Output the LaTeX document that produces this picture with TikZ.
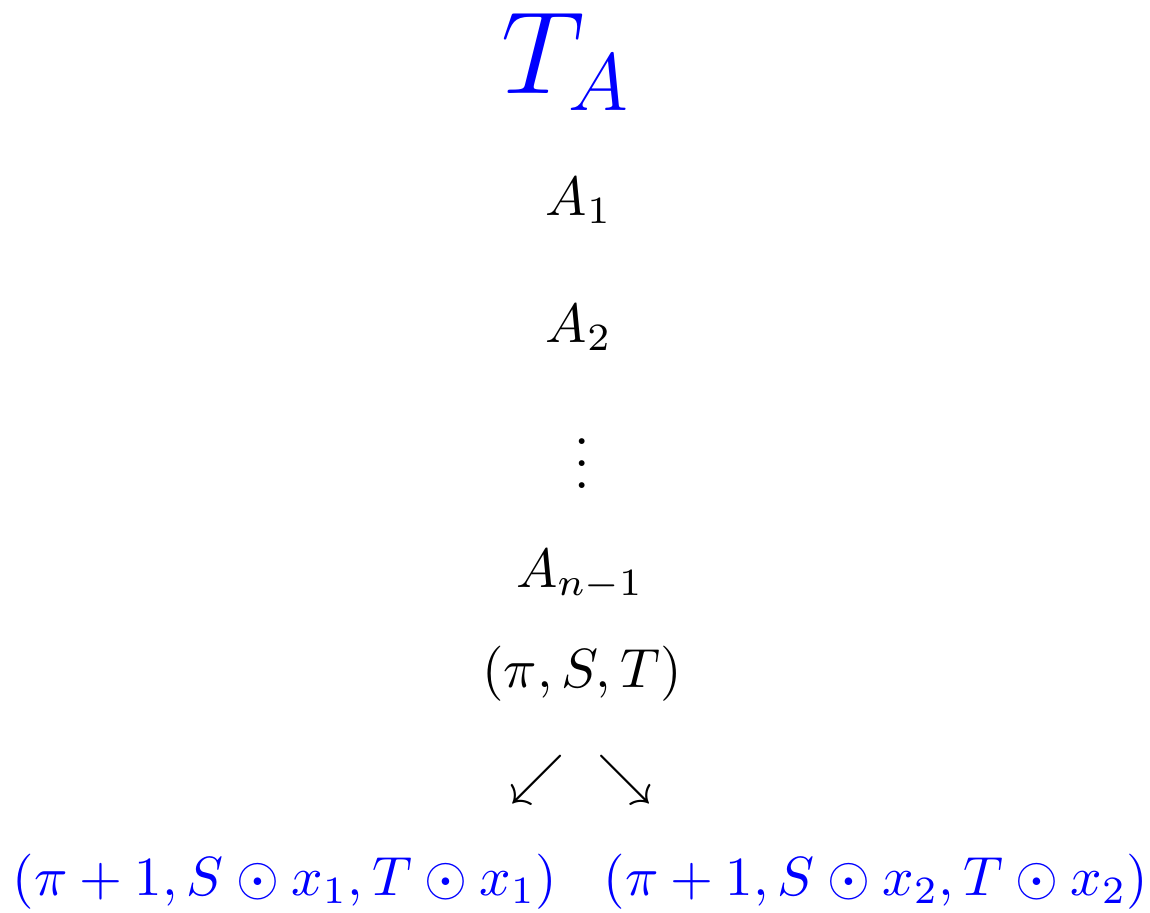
\documentclass[tikz,border=0pt]{standalone}
\usepackage{amsmath,amssymb}
\usepackage{tikz}
\usetikzlibrary{positioning}

\begin{document}
\begin{tikzpicture}[every node/.style={inner sep=0pt, anchor=base, scale=1.57, transform shape}]
  \useasboundingbox (0,0) rectangle (11.5,-9.12);
  \node[blue, font=\huge, scale=1.025] (title) at (5.66,-0.93) {$T_A$};
  \node (a1)   at (5.79,-2.15) {$A_1$};
  \node (a2)   at (5.79,-3.42) {$A_2$};
  \node[anchor=center] (dots) at (5.82,-4.47) {$\vdots$};
  \node (an)   at (5.80,-5.87) {$A_{n-1}$};
  \node (root) at (5.82,-6.87) {$(\pi, S, T)$};
  \node[anchor=center] (la) at (5.37,-7.80) {$\swarrow$};
  \node[anchor=center] (ra) at (6.25,-7.80) {$\searrow$};
  \node[blue] (left)  at (2.85,-8.95) {$(\pi+1, S\odot x_1, T\odot x_1)$};
  \node[blue] (right) at (8.76,-8.95) {$(\pi+1, S\odot x_2, T\odot x_2)$};
\end{tikzpicture}
\end{document}
